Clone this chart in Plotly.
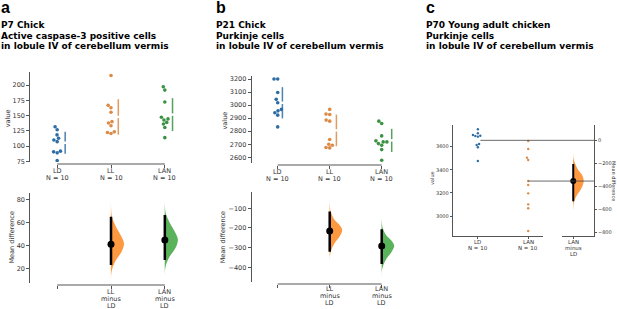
import numpy as np
import plotly.graph_objects as go

W, H = 617, 309

# ---------------- data ----------------
a_groups = ["LD", "LL", "LAN"]
a_LD = [131.7, 126.7, 118.3, 112.8, 110.0, 107.2, 91.7, 90.5, 88.9, 76.2]
a_LL = [215.5, 166.7, 162.8, 155.5, 140.0, 137.8, 133.3, 123.3, 122.2, 120.5]
a_LAN = [197.2, 191.7, 172.2, 147.2, 144.5, 142.8, 138.8, 136.1, 130.5, 113.8]
a_contrasts = ["LL", "LAN"]
a_diff = [41.1, 44.9]
a_ci_lo = [22.9, 27.3]
a_ci_hi = [65.3, 66.8]
a_LL_boot_v = [80, 72, 65, 56.5, 49, 42, 35, 27, 21, 14, 10]
a_LL_boot_d = [0, 0.01, 0.08, 0.38, 0.75, 1.0, 0.83, 0.38, 0.13, 0.01, 0]
a_LAN_boot_v = [80, 74, 68, 60, 52.5, 45.5, 38, 30.5, 24.5, 18, 14]
a_LAN_boot_d = [0, 0.01, 0.08, 0.38, 0.75, 1.0, 0.83, 0.38, 0.13, 0.01, 0]

b_groups = ["LD", "LL", "LAN"]
b_LD = [3200, 3200, 3097, 3044, 3018, 2967, 2956, 2941, 2923, 2833]
b_LL = [2967, 2931, 2928, 2885, 2877, 2736, 2700, 2692, 2675, 2672]
b_LAN = [2877, 2859, 2764, 2726, 2718, 2718, 2705, 2692, 2659, 2577]
b_contrasts = ["LL", "LAN"]
b_diff = [-215, -292]
b_ci_lo = [-321, -383]
b_ci_hi = [-117, -207]
b_LL_boot_v = [-50, -85, -117, -160, -185, -210, -244, -278, -312, -345, -375]
b_LL_boot_d = [0, 0.01, 0.08, 0.39, 0.79, 1.0, 0.79, 0.39, 0.13, 0.01, 0]
b_LAN_boot_v = [-140, -170, -200, -240, -265, -290, -322, -355, -388, -420, -460]
b_LAN_boot_d = [0, 0.01, 0.08, 0.39, 0.79, 1.0, 0.79, 0.39, 0.13, 0.01, 0]

c_groups = ["LD", "LAN"]
c_LD = [3751, 3716, 3701, 3695, 3693, 3687, 3623, 3615, 3595, 3476]
c_LAN = [3649, 3580, 3505, 3485, 3303, 3268, 3196, 3101, 3067, 2870]
c_contrasts = ["LAN"]
c_diff = [-353]
c_ci_lo = [-527]
c_ci_hi = [-206]
c_LAN_boot_v = [-110, -150, -197, -256, -300, -352, -416, -474, -518, -560, -600]
c_LAN_boot_d = [0, 0.02, 0.16, 0.47, 0.84, 1.0, 0.78, 0.37, 0.12, 0.02, 0]

a_ticks_top = [75, 100, 125, 150, 175, 200]
a_ticks_bot = [20, 40, 60, 80]
b_ticks_top = [2600, 2700, 2800, 2900, 3000, 3100, 3200]
b_ticks_bot = [-400, -300, -200, -100]
c_ticks_left = [3000, 3200, 3400, 3600]
c_ticks_right = [-800, -600, -400, -200, 0]

titles = {
    "a": ["P7 Chick", "Active caspase-3 positive cells", "in lobule IV of cerebellum vermis"],
    "b": ["P21 Chick", "Purkinje cells", "in lobule IV of cerebellum vermis"],
    "c": ["P70 Young adult chicken", "Purkinje cells", "in lobule IV of cerebellum vermis"],
}

# ---------------- styles / layout geometry ----------------
SW = ["#2e6da4", "#dc8a45", "#3a9140"]          # swarm colours
VC = ["#fd9940", "#5ab25a"]                      # violin colours (orange, green)
AX = "#555555"
TXT = "#333333"
TF = dict(family="DejaVu Sans", size=6.5, color=TXT)
TFs = dict(family="DejaVu Sans", size=5, color=TXT)


def fx(px):
    return px / W


def fy(py):
    return 1 - py / H


SPEC = {
    "1": dict(xdom=(30.25, 191.75), xr=(-0.5, 2.5), ydom=(71.7, 162.0), yr=(73.9, 221.8)),
    "2": dict(xdom=(30.25, 191.75), xr=(-0.5, 2.5), ydom=(192.7, 283.0), yr=(7.1, 86.4)),
    "3": dict(xdom=(251.7, 407.7), xr=(-0.5, 2.5), ydom=(76.0, 163.3), yr=(2554, 3223)),
    "4": dict(xdom=(251.7, 407.7), xr=(-0.5, 2.5), ydom=(191.7, 281.7), yr=(-473, -16)),
    "5": dict(xdom=(452.7, 543.3), xr=(-0.5, 1.3), ydom=(125.0, 236.0), yr=(2826.8, 3787.9)),
    "6": dict(xdom=(561.7, 594.0), xr=(-0.5, 0.9), ydom=(125.0, 236.0), yr=None),
}
ld_mean_c = float(np.mean(c_LD))
SPEC["6"]["yr"] = (SPEC["5"]["yr"][0] - ld_mean_c, SPEC["5"]["yr"][1] - ld_mean_c)


def ppx(k):
    s = SPEC[k]
    return (s["xdom"][1] - s["xdom"][0]) / (s["xr"][1] - s["xr"][0])


def ppv(k):
    s = SPEC[k]
    return (s["ydom"][1] - s["ydom"][0]) / (s["yr"][1] - s["yr"][0])


def xpix(k, x):
    s = SPEC[k]
    return s["xdom"][0] + (x - s["xr"][0]) * ppx(k)


def ref(k):
    return ("x" if k == "1" else "x" + k), ("y" if k == "1" else "y" + k)


def swarm(vals, pv, px, diam):
    vals = np.asarray(vals, float)
    ys = vals * pv
    order = np.argsort(ys)
    placed = []
    offs = np.zeros(len(vals))
    for i in order:
        y = ys[i]
        cands = [0.0]
        for (xj, yj) in placed:
            dy = abs(y - yj)
            if dy < diam:
                dx = np.sqrt(diam ** 2 - dy ** 2)
                cands += [xj + dx, xj - dx]
        cands = sorted(cands, key=lambda c: (round(abs(c), 6), c))
        for c in cands:
            if all((c - xj) ** 2 + (y - yj) ** 2 >= diam ** 2 - 1e-6 for xj, yj in placed):
                offs[i] = c
                break
        placed.append((offs[i], y))
    return offs / px


fig = go.Figure()


def raw_panel(k, data, colors, msize, spacing, line_off_px=None):
    xa, ya = ref(k)
    for gi, vals in enumerate(data):
        offs = swarm(vals, ppv(k), ppx(k), spacing)
        fig.add_trace(go.Scatter(
            x=gi + offs, y=vals, mode="markers", xaxis=xa, yaxis=ya,
            marker=dict(size=msize, color=colors[gi], line=dict(width=0)),
            showlegend=False, hoverinfo="y"))
        if line_off_px is not None:
            m = float(np.mean(vals))
            sd = float(np.std(vals, ddof=1))
            gap = 1.2 / ppv(k)
            xo = gi + line_off_px[gi] / ppx(k)
            fig.add_trace(go.Scatter(
                x=[xo, xo, None, xo, xo], y=[m - sd, m - gap, None, m + gap, m + sd],
                mode="lines", xaxis=xa, yaxis=ya,
                line=dict(color=colors[gi], width=1.5), opacity=0.85,
                showlegend=False, hoverinfo="skip"))


def contrast_panel(k, positions, diffs, lo, hi, boots, colors, wunits, dot=7, ciw=2.5):
    xa, ya = ref(k)
    for i, p in enumerate(positions):
        bv, bd = boots[i]
        xs = [p + wunits * d for d in bd] + [p]
        ys = list(bv) + [bv[0]]
        fig.add_trace(go.Scatter(
            x=xs, y=ys, mode="lines", fill="toself", fillcolor=colors[i],
            line=dict(width=0, shape="spline", color=colors[i]), xaxis=xa, yaxis=ya,
            showlegend=False, hoverinfo="skip"))
        fig.add_trace(go.Scatter(
            x=[p, p], y=[lo[i], hi[i]], mode="lines", xaxis=xa, yaxis=ya,
            line=dict(color="black", width=ciw), showlegend=False, hoverinfo="skip"))
        fig.add_trace(go.Scatter(
            x=[p], y=[diffs[i]], mode="markers", xaxis=xa, yaxis=ya,
            marker=dict(size=dot, color="black"), showlegend=False, hoverinfo="y"))


# panel a
raw_panel("1", [a_LD, a_LL, a_LAN], SW, 3.6, 3.7, line_off_px=[8, 7.3, 7.7])
contrast_panel("2", [1, 2], a_diff, a_ci_lo, a_ci_hi,
               [(a_LL_boot_v, a_LL_boot_d), (a_LAN_boot_v, a_LAN_boot_d)], VC, 13.0 / ppx("2"))
# panel b
raw_panel("3", [b_LD, b_LL, b_LAN], SW, 3.6, 3.7, line_off_px=[4.7, 6.7, 10])
contrast_panel("4", [1, 2], b_diff, b_ci_lo, b_ci_hi,
               [(b_LL_boot_v, b_LL_boot_d), (b_LAN_boot_v, b_LAN_boot_d)], VC, 12.5 / ppx("4"))
# panel c
raw_panel("5", [c_LD, c_LAN], SW, 2.4, 2.6)
contrast_panel("6", [0], c_diff, c_ci_lo, c_ci_hi,
               [(c_LAN_boot_v, c_LAN_boot_d)], [VC[0]], 10.5 / ppx("6"), dot=6, ciw=2)

# ---------------- axes ----------------
layout = dict(width=W, height=H, autosize=False, margin=dict(l=0, r=0, t=0, b=0, pad=0),
              paper_bgcolor="white", plot_bgcolor="white", showlegend=False)

common = dict(showgrid=False, zeroline=False, automargin=False, ticks="outside",
              tickwidth=1, tickcolor=AX, linecolor=AX, linewidth=1)


def xkey(k):
    return "xaxis" if k == "1" else "xaxis" + k


def ykey(k):
    return "yaxis" if k == "1" else "yaxis" + k


def set_axes(k, nticks, yticks, xfree_py=None, ytf=TF, ticklen=3, yside="left"):
    s = SPEC[k]
    xa, ya = ref(k)
    xd = dict(common, domain=[fx(s["xdom"][0]), fx(s["xdom"][1])], range=list(s["xr"]),
              tickvals=list(range(nticks)), showticklabels=False, ticklen=ticklen)
    if xfree_py is not None:
        xd.update(anchor="free", position=fy(xfree_py), showline=False)
    else:
        xd.update(anchor=ya, showline=True)
    yd = dict(common, domain=[fy(s["ydom"][1]), fy(s["ydom"][0])], range=list(s["yr"]),
              tickvals=yticks, tickfont=ytf, ticklen=ticklen, anchor=xa, showline=True, side=yside)
    layout[xkey(k)] = xd
    layout[ykey(k)] = yd


set_axes("1", 3, a_ticks_top, xfree_py=164)
set_axes("2", 3, a_ticks_bot, xfree_py=285)
set_axes("3", 3, b_ticks_top, xfree_py=165)
set_axes("4", 3, b_ticks_bot, xfree_py=284)
set_axes("5", 2, c_ticks_left, ytf=TFs, ticklen=2)
set_axes("6", 1, c_ticks_right, ytf=TFs, ticklen=2, yside="right")

shapes = []
# trimmed x axis lines for panels a and b
for k, py, ng in [("1", 164, 3), ("2", 285, 3), ("3", 165, 3), ("4", 284, 3)]:
    xa, _ = ref(k)
    shapes.append(dict(type="line", xref=xa, yref="paper", x0=0, x1=ng - 1,
                       y0=fy(py), y1=fy(py), line=dict(color=AX, width=1)))
# Gardner-Altman reference lines in panel c
lan_mean_c = float(np.mean(c_LAN))
shapes.append(dict(type="line", xref="paper", yref="y5", x0=fx(xpix("5", 0.05)), x1=fx(594),
                   y0=ld_mean_c, y1=ld_mean_c, line=dict(color="#444444", width=0.8)))
shapes.append(dict(type="line", xref="paper", yref="y5", x0=fx(xpix("5", 1.0)), x1=fx(594),
                   y0=lan_mean_c, y1=lan_mean_c, line=dict(color="#444444", width=0.8)))
layout["shapes"] = shapes

# ---------------- text ----------------
ann = []


def txt(xp, yp, text, size, family="DejaVu Sans", color=TXT, xanchor="left", yanchor="top",
        angle=0, bold=False, xref="paper"):
    ann.append(dict(x=fx(xp) if xref == "paper" else xp, y=fy(yp), xref=xref, yref="paper",
                    showarrow=False, text=f"<b>{text}</b>" if bold else text, textangle=angle,
                    xanchor=xanchor, yanchor=yanchor, borderpad=0,
                    font=dict(family=family, size=size, color=color)))


def xlabels(k, labels_lines, line_ys, size=6.5):
    xa, _ = ref(k)
    for gi, lines in enumerate(labels_lines):
        for line, yy in zip(lines, line_ys):
            if line:
                txt(gi, yy, line, size, xanchor="center", yanchor="middle", xref=xa)


def n_lines(groups, data):
    return [[g, f"N = {len(v)}"] for g, v in zip(groups, data)]


def minus_lines(base, contrasts):
    return [["", "", ""]] + [[c, "minus", base] for c in contrasts]


xlabels("1", n_lines(a_groups, [a_LD, a_LL, a_LAN]), [170.7, 178.3])
xlabels("2", minus_lines("LD", a_contrasts), [291.5, 298.8, 306.0])
xlabels("3", n_lines(b_groups, [b_LD, b_LL, b_LAN]), [171.7, 179.0])
xlabels("4", minus_lines("LD", b_contrasts), [289.3, 296.3, 303.3])
xlabels("5", n_lines(c_groups, [c_LD, c_LAN]), [241.7, 248.3], size=5.5)
xlabels("6", [[c, "minus", "LD"] for c in c_contrasts], [241.7, 247.5, 253.5], size=5.5)

LET = 16
TS = 9
for lab, x0 in [("a", 0), ("b", 215), ("c", 425)]:
    txt(x0, 12.5 - 0.905 * LET, lab, LET, family="Liberation Sans, Arial", color="black", bold=True)
    for line, base in zip(titles[lab], [27.3, 38.0, 48.7]):
        txt(x0, base - 0.928 * TS, line, TS, family="DejaVu Sans", color="black", bold=True)

txt(8.3, 118, "value", 6.5, xanchor="center", yanchor="middle", angle=-90)
txt(11.5, 238, "Mean difference", 6.5, xanchor="center", yanchor="middle", angle=-90)
txt(224.5, 121, "value", 6.5, xanchor="center", yanchor="middle", angle=-90)
txt(223.3, 237, "Mean difference", 6.5, xanchor="center", yanchor="middle", angle=-90)
txt(432, 178, "value", 5, xanchor="center", yanchor="middle", angle=-90)
txt(614, 181, "Mean difference", 5, xanchor="center", yanchor="middle", angle=90)

layout["annotations"] = ann
fig.update_layout(**layout)
fig.write_html("out.html", config={"displayModeBar": False},
               post_script="document.body.style.margin='0';")
